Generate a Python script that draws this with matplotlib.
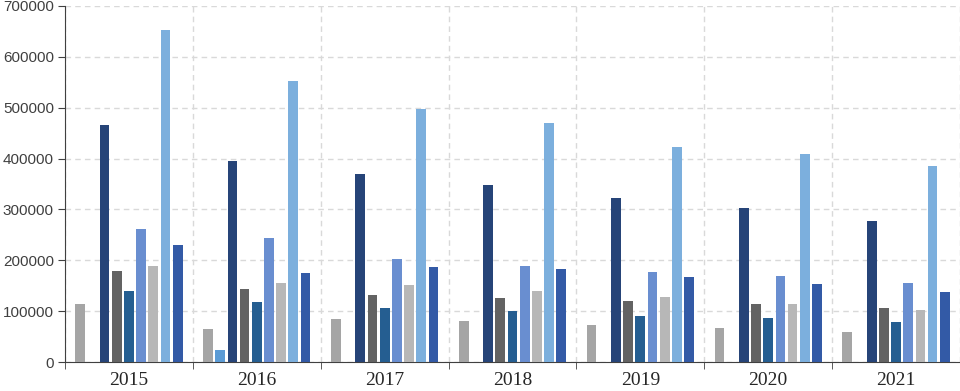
import numpy as np
import matplotlib
matplotlib.use("Agg")
import matplotlib.pyplot as plt

years = ['2015', '2016', '2017', '2018', '2019', '2020', '2021']

# one list per series, in drawing order within each year
s1 = [115000, 65000, 85000, 81000, 72500, 66500, 59500]
s2 = [0, 23500, 0, 0, 0, 0, 0]
s3 = [465000, 395000, 369500, 348000, 323000, 303500, 278000]
s4 = [180000, 144000, 132000, 127000, 119500, 114500, 107000]
s5 = [140000, 118000, 106000, 100000, 91000, 86500, 80000]
s6 = [262000, 244000, 202000, 189500, 177000, 169500, 156500]
s7 = [189000, 155000, 152000, 139500, 127500, 115000, 103500]
s8 = [653000, 553000, 497500, 470000, 422500, 409000, 386000]
s9 = [230000, 176000, 187500, 183000, 168000, 154500, 137500]

series = [s1, s2, s3, s4, s5, s6, s7, s8, s9]
colors = ['#A5A5A5', '#5B9BD5', '#264478', '#636363', '#255E91',
          '#698ED0', '#B7B7B7', '#7CAFDD', '#335AA6']

fig = plt.figure(figsize=(9.6, 3.91), dpi=100)
ax = fig.add_axes([65 / 960, 28.7 / 391, 1 - 65 / 960, (362.3 - 5.7) / 391])

x = np.arange(len(years))
step = 0.0953
width = 0.076
n = len(series)
for k, (vals, c) in enumerate(zip(series, colors)):
    off = (k - (n - 1) / 2) * step
    ax.bar(x + off, vals, width=width, color=c, zorder=3)

ax.set_xlim(-0.5, len(years) - 0.5)
ax.set_ylim(0, 700000)
ax.set_yticks(np.arange(0, 700001, 100000))
ax.set_yticklabels([str(v) for v in range(0, 700001, 100000)],
                   fontfamily='Liberation Sans', fontsize=11, color='#404040')

ax.set_xticks(x)
ax.set_xticklabels(years, fontfamily='Liberation Serif', fontsize=14, color='#262626')
ax.set_xticks(np.arange(-0.5, len(years)), minor=True)
ax.tick_params(axis='x', which='major', length=0, pad=7)
ax.tick_params(axis='x', which='minor', length=5, color='#404040', direction='out')
ax.tick_params(axis='y', length=5, color='#404040', pad=3)

ax.grid(True, axis='y', which='major', linestyle=(0, (4, 3)), color='#d9d9d9', linewidth=1, zorder=0)
ax.grid(True, axis='x', which='minor', linestyle=(0, (4, 3)), color='#d9d9d9', linewidth=1, zorder=0)

for side in ['top', 'right']:
    ax.spines[side].set_visible(False)
ax.spines['left'].set_color('#404040')
ax.spines['bottom'].set_color('#404040')

fig.savefig('out.png', dpi=100)
